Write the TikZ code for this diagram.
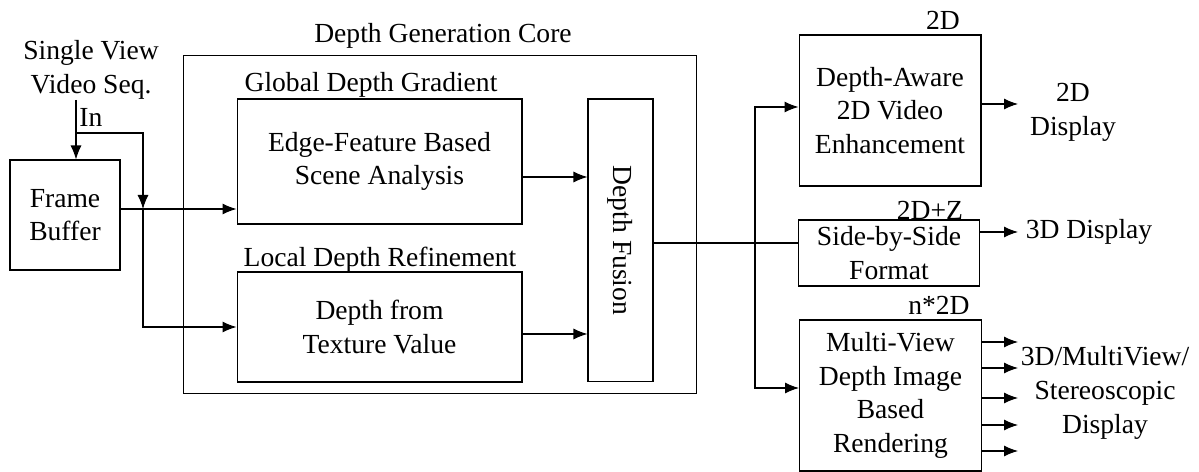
\documentclass[tikz,border=0pt]{standalone}
\usepackage{fontspec}
\usepackage{graphicx}
\setmainfont{Liberation Serif}
\usetikzlibrary{arrows.meta,calc}
\begin{document}
\begin{tikzpicture}[x=0.02cm,y=-0.02cm,
  font=\fontsize{15.7}{19.2}\selectfont,
  box/.style={draw,line width=0.6pt,inner sep=0pt,align=center},
  lbl/.style={inner sep=0pt,align=center},
  conn/.style={line width=0.6pt},
  arr/.style={conn,-{Latex[length=0.28cm,width=0.22cm]}}]
\path[use as bounding box] (0,0) rectangle (1199,472);

% boxes
\node[box,minimum width=2.2cm,minimum height=2.2cm] (fb) at (65,215) {Frame\\Buffer};
\node[box,minimum width=10.28cm,minimum height=6.78cm] (core) at (440,224.5) {};
\node[box,minimum width=5.7cm,minimum height=2.5cm] (edge) at (379.5,161.5) {Edge-Feature Based\\Scene Analysis};
\node[box,minimum width=5.7cm,minimum height=2.2cm] (local) at (379.5,327) {Depth from\\Texture Value};
\node[box,minimum width=1.3cm,minimum height=5.66cm] (fusion) at (620.5,240.5) {\rotatebox{-90}{Depth Fusion}};
\node[box,minimum width=3.64cm,minimum height=3.02cm] (aware) at (890,110.5) {Depth-Aware\\2D Video\\Enhancement};
\node[box,minimum width=3.62cm,minimum height=1.32cm] (sbs) at (889,253) {Side-by-Side\\Format};
\node[box,minimum width=3.64cm,minimum height=3.02cm] (mv) at (890.5,395.5) {Multi-View\\Depth Image\\Based\\Rendering};

% labels
\node[lbl] (src) at (91,70) {Single View\\Video Seq.};
\node[lbl,anchor=west] (inl) at (79,117.5) {In};
\node[lbl] (coret) at (443,36) {Depth Generation Core};
\node[lbl] (gdg) at (371,84.5) {Global Depth Gradient};
\node[lbl] (ldr) at (380,259.5) {Local Depth Refinement};
\node[lbl] (l2d) at (943,20) {2D};
\node[lbl] (d2d) at (1073,112.5) {2D\\Display};
\node[lbl] (l2dz) at (930,210) {2D+Z};
\node[lbl] (d3d) at (1089,232) {3D Display};
\node[lbl] (ln2d) at (939,305) {n*2D};
\node[lbl] (dmv) at (1105,393) {3D/MultiView/\\Stereoscopic\\Display};

% coordinates
\coordinate (inTop) at (76,100);
\coordinate (br0) at (76,133);
\coordinate (junc) at (143,209);
\coordinate (sp) at (755,243);
\coordinate (o1) at (1018,104);
\coordinate (o2) at (1018,232);
\coordinate (m1) at (1018,342);
\coordinate (m2) at (1018,368);
\coordinate (m3) at (1018,398);
\coordinate (m4) at (1018,425);
\coordinate (m5) at (1018,451);

% connectors
\draw[arr] (inTop) -- (inTop |- fb.north);
\draw[arr] (br0) -| (junc);
\draw[arr] (fb.east |- junc) -- (edge.west |- junc);
\draw[arr] (junc) |- (local.west);
\draw[arr] (edge.east |- 0,177) -- (fusion.west |- 0,177);
\draw[arr] (local.east |- 0,334) -- (fusion.west |- 0,334);
\draw[conn] (fusion.east |- sp) -- (sbs.west |- sp);
\draw[arr] (sp) |- (aware.west |- 0,107);
\draw[arr] (sp) |- (mv.west |- 0,388);
\draw[arr] (aware.east |- o1) -- (o1);
\draw[arr] (sbs.east |- o2) -- (o2);
\foreach \m in {m1,m2,m3,m4,m5}{\draw[arr] (mv.east |- \m) -- (\m);}
\end{tikzpicture}
\end{document}
